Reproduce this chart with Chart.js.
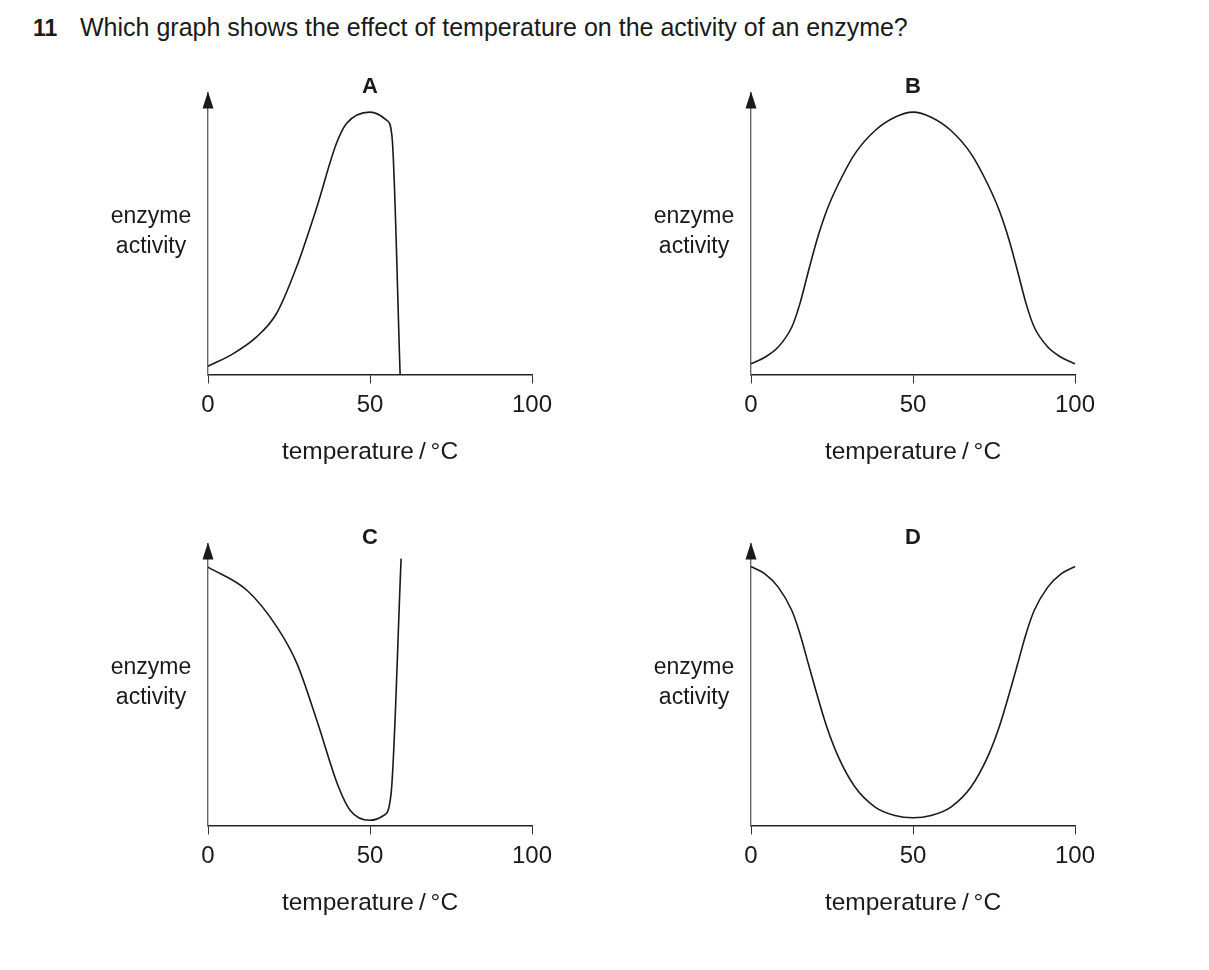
<!DOCTYPE html>
<html>
<head>
<meta charset="utf-8">
<script src="https://cdn.jsdelivr.net/npm/chart.js@4.4.1/dist/chart.umd.min.js"></script>
<style>
  body { margin: 0; background: #fff; width: 1209px; height: 970px; position: relative; overflow: hidden;
         font-family: "Liberation Sans", Arial, sans-serif; color: #1a1a1a; }
  .question { position: absolute; left: 33px; top: 12px; font-size: 25px; line-height: 30px; white-space: nowrap; }
  .question b { display: inline-block; width: 47px; font-size: 23px; }
  .panel { position: absolute; left: 0; top: 0; }
</style>
</head>
<body>
<div class="question"><b>11</b>Which graph shows the effect of temperature on the activity of an enzyme?</div>
<div class="panel" id="wrapA"><canvas id="chartA" width="540" height="480"></canvas></div>
<div class="panel" id="wrapB"><canvas id="chartB" width="540" height="480"></canvas></div>
<div class="panel" id="wrapC"><canvas id="chartC" width="540" height="480"></canvas></div>
<div class="panel" id="wrapD"><canvas id="chartD" width="540" height="480"></canvas></div>
<script>
// values (temperature in °C, activity in arbitrary units 0-100)
const xTicks = [0, 50, 100];

const tempA = [0, 7.7, 14.9, 21.1, 27.3, 33.5, 39.6, 42.7, 50, 55.2, 56.8, 59.3];
const activityA = [2.9, 7.3, 13.2, 21.5, 38.0, 59.0, 81.8, 88.9, 93, 90.1, 84.2, 0];

const tempB = [0, 4.3, 8.4, 12.6, 15.1, 17.7, 20.3, 23.4, 27, 32.1, 38.3, 44.4, 50,
               55.6, 61.7, 67.9, 73, 76.6, 79.7, 82.3, 84.9, 87.4, 91.6, 95.7, 100];
const activityB = [3.8, 6.1, 9.7, 16.8, 25.1, 36.5, 47.5, 58.2, 67.6, 78.3, 86.5, 91.2, 93,
                   91.2, 86.5, 78.3, 67.6, 58.2, 47.5, 36.5, 25.1, 16.8, 9.7, 6.1, 3.8];

const tempC = [0, 12.1, 21.3, 27.5, 33.6, 40.3, 43.9, 49.9, 54.2, 56.5, 59.6];
const activityC = [91.6, 83.3, 70.3, 57.3, 37.2, 13.6, 5.3, 1.8, 3.5, 11.2, 94.6];

const tempD = [0, 4.3, 8.4, 12.6, 15.1, 17.7, 20.3, 23.4, 27, 32.1, 38.3, 44.4, 50,
               55.6, 61.7, 67.9, 73, 76.6, 79.7, 82.3, 84.9, 87.4, 91.6, 95.7, 100];
const activityD = [91.8, 89.2, 84.5, 76.2, 68.0, 57.3, 46.7, 34.9, 24.2, 13.6, 6.5, 3.5, 2.7,
                   3.5, 6.5, 13.6, 24.2, 34.9, 46.7, 57.3, 68.0, 76.2, 84.5, 89.2, 91.8];

const panels = [
  { id: "A", temps: tempA, activity: activityA, axisX: 208, axisY: 374 },
  { id: "B", temps: tempB, activity: activityB, axisX: 751, axisY: 374 },
  { id: "C", temps: tempC, activity: activityC, axisX: 208, axisY: 825 },
  { id: "D", temps: tempD, activity: activityD, axisX: 751, axisY: 825 }
];

const AREA_W = 324;
const AREA_H = 282;
const FONT = "'Liberation Sans', Arial, sans-serif";
const INK = "#1a1a1a";

// arrow head on the activity axis and the horizontal "enzyme activity" label
const axisExtras = {
  id: "axisExtras",
  afterDraw(chart) {
    const { ctx, chartArea } = chart;
    const x = chart.scales.x.getPixelForValue(0);
    const top = chart.scales.y.getPixelForValue(100);
    ctx.save();
    ctx.fillStyle = INK;
    ctx.beginPath();
    ctx.moveTo(x, top - 1);
    ctx.lineTo(x - 5.5, top + 16);
    ctx.lineTo(x + 5.5, top + 16);
    ctx.closePath();
    ctx.fill();

    ctx.font = "23px " + FONT;
    ctx.textAlign = "center";
    ctx.textBaseline = "middle";
    ctx.fillText("enzyme", chartArea.left - 57, chartArea.bottom - 158);
    ctx.fillText("activity", chartArea.left - 57, chartArea.bottom - 128);
    ctx.restore();
  }
};

function makeChart(panel) {
  const canvas = document.getElementById("chart" + panel.id);
  const points = panel.temps.map((t, i) => ({ x: t, y: panel.activity[i] }));

  return new Chart(canvas, {
    type: "line",
    data: {
      datasets: [{
        data: points,
        borderColor: INK,
        borderWidth: 1.6,
        pointRadius: 0,
        cubicInterpolationMode: "monotone",
        fill: false,
        clip: false
      }]
    },
    options: {
      responsive: false,
      animation: false,
      events: [],
      layout: { padding: { left: 110, right: 30, top: 40, bottom: 10 } },
      plugins: {
        legend: { display: false },
        tooltip: { enabled: false },
        title: {
          display: true,
          text: panel.id,
          fullSize: false,
          color: INK,
          font: { family: FONT, size: 22, weight: "bold" },
          padding: { top: 0, bottom: -8 }
        }
      },
      scales: {
        x: {
          type: "linear",
          min: 0,
          max: 100,
          afterBuildTicks: (scale) => { scale.ticks = xTicks.map(v => ({ value: v })); },
          ticks: {
            color: INK,
            padding: 8,
            maxRotation: 0,
            font: { family: FONT, size: 24 }
          },
          grid: { display: true, drawOnChartArea: false, drawTicks: true, tickLength: 9, color: "#333", lineWidth: 1 },
          border: { display: true, color: "#222", width: 1.4 },
          title: {
            display: true,
            text: "temperature\u2009/\u2009°C",
            color: INK,
            font: { family: FONT, size: 24.5 },
            padding: { top: 9, bottom: 0 }
          }
        },
        y: {
          type: "linear",
          min: 0,
          max: 100,
          ticks: { display: false },
          grid: { display: false, drawTicks: false },
          border: { display: true, color: "#666", width: 1.4 }
        }
      }
    },
    plugins: [axisExtras]
  });
}

panels.forEach(panel => {
  const chart = makeChart(panel);
  const wrap = document.getElementById("wrap" + panel.id);

  // size the plot area to the sketch, then move the canvas so the axes land in place
  const pad = chart.options.layout.padding;
  pad.right += chart.chartArea.width - AREA_W;
  pad.bottom += chart.chartArea.height - AREA_H;
  chart.update("none");

  const area = chart.chartArea;
  wrap.style.left = (panel.axisX - area.left) + "px";
  wrap.style.top = (panel.axisY - area.bottom) + "px";
});
</script>
</body>
</html>
